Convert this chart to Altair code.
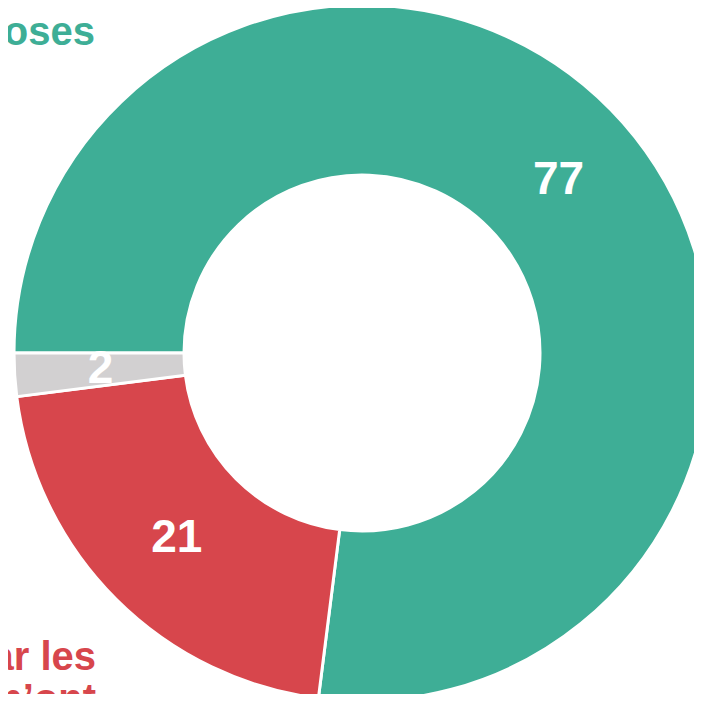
import math
import altair as alt
import pandas as pd

categories = ["teal", "red", "gray"]
values = [77, 21, 2]
labels = ["77", "21", "2"]
colors = ["#3eae96", "#d7464c", "#d2d0d1"]
order = [0, 1, 2]

teal_label = ["oses"]
red_label = ["ar les", "n’ont"]

df = pd.DataFrame({"cat": categories, "value": values, "label": labels, "order": order})

CX, CY = 354, 345
start = 1.5 * math.pi
theta = alt.Theta("value:Q", stack=True, scale=alt.Scale(range=[start, start + 2 * math.pi]))
color = alt.Color("cat:N", scale=alt.Scale(domain=categories, range=colors), legend=None)

arcs = alt.Chart(df).mark_arc(innerRadius=178, outerRadius=348, stroke="white", strokeWidth=3).encode(
    theta=theta, color=color, order=alt.Order("order:Q"),
    x=alt.value(CX), y=alt.value(CY),
)

nums = alt.Chart(df).mark_text(radius=262, font="Liberation Sans", fontWeight="bold", fontSize=46,
                               color="white", baseline="middle", align="center").encode(
    theta=theta, text="label:N", order=alt.Order("order:Q"),
    x=alt.value(CX), y=alt.value(CY),
)

t1 = alt.Chart(pd.DataFrame({"t": teal_label})).mark_text(
    font="Liberation Sans", fontWeight="bold", fontSize=40, color="#3eae96",
    align="right", baseline="alphabetic").encode(
    text="t:N", x=alt.value(87), y=alt.value(37))

t2 = alt.Chart(pd.DataFrame({"t": [red_label]})).mark_text(
    font="Liberation Sans", fontWeight="bold", fontSize=40, color="#d7464c",
    align="right", baseline="alphabetic", lineHeight=42).encode(
    text="t", x=alt.value(88), y=alt.value(662))

chart = alt.layer(arcs, nums, t1, t2).properties(
    width=686, height=686,
    autosize=alt.AutoSizeParams(type="none"),
    padding=0,
).configure_view(stroke=None)

chart.save("out.html", embed_options={"renderer": "svg", "actions": False})
